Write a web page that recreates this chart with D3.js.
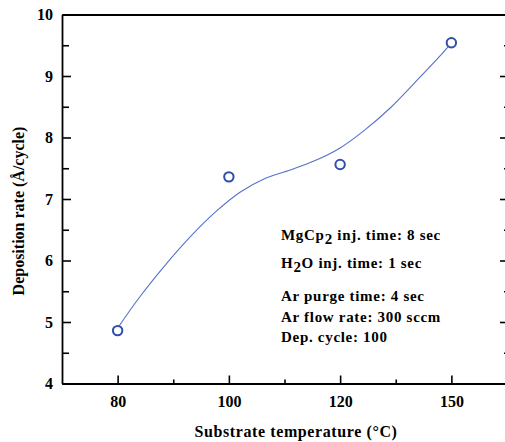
<!DOCTYPE html>
<html>
<head>
<meta charset="utf-8">
<script src="https://cdn.jsdelivr.net/npm/d3@7"></script>
<style>
  html, body { margin: 0; padding: 0; background: #fff; }
  svg text { font-family: "Liberation Serif", "Times New Roman", serif; font-weight: bold; }
</style>
</head>
<body>
<div id="chart"></div>
<script>
// data
var temps = ["80", "100", "120", "150"];
var rates = [4.86, 7.36, 7.56, 9.54];

// smooth fit line (x = position along the category axis)
var fitPos  = [0, 0.2, 0.43, 0.65, 0.88, 1.1, 1.32, 1.55, 1.77, 2.0, 2.22, 2.45, 2.67, 2.9, 3];
var fitRate = [4.90, 5.41, 5.93, 6.38, 6.79, 7.11, 7.33, 7.47, 7.62, 7.83, 8.12, 8.48, 8.89, 9.33, 9.54];

var yTicks = [4, 5, 6, 7, 8, 9, 10];
var yMinor = [4.5, 5.5, 6.5, 7.5, 8.5, 9.5];
var xMinor = [0.5, 1.5, 2.5];

var notes = [
  ["MgCp", "2", " inj. time: 8 sec"],
  ["H", "2", "O inj. time: 1 sec"],
  ["Ar purge time: 4 sec", "", ""],
  ["Ar flow rate: 300 sccm", "", ""],
  ["Dep. cycle: 100", "", ""]
];

function drawChart() {
  var width = 505, height = 442;
  var left = 62, right = 507, top = 14.5, bottom = 383.5;

  var svg = d3.select("#chart").append("svg")
    .attr("width", width)
    .attr("height", height);

  var x = d3.scaleLinear().domain([-0.5, temps.length - 0.5]).range([left, right]);
  var y = d3.scaleLinear().domain([4, 10]).range([bottom, top]);

  // left axis, ticks pointing in
  svg.append("g")
    .attr("transform", `translate(${left},0)`)
    .call(d3.axisLeft(y).tickValues(yTicks).tickSize(-9).tickSizeOuter(0).tickPadding(9).tickFormat(d3.format("d")))
    .call(g => g.select(".domain").attr("stroke-width", 1.8))
    .call(g => g.selectAll(".tick line").attr("stroke-width", 1.6))
    .call(g => g.selectAll("text").attr("font-size", 16).attr("fill", "#000"));
  svg.append("g")
    .attr("transform", `translate(${left},0)`)
    .call(d3.axisLeft(y).tickValues(yMinor).tickSize(-7).tickSizeOuter(0).tickFormat(""))
    .call(g => g.select(".domain").remove())
    .call(g => g.selectAll(".tick line").attr("stroke-width", 1.6));

  // right axis
  svg.append("g")
    .attr("transform", `translate(${right},0)`)
    .call(d3.axisLeft(y).tickValues(yTicks).tickSize(7).tickSizeOuter(0).tickFormat(""))
    .call(g => g.select(".domain").attr("stroke-width", 1.8))
    .call(g => g.selectAll(".tick line").attr("stroke-width", 1.6));
  svg.append("g")
    .attr("transform", `translate(${right},0)`)
    .call(d3.axisLeft(y).tickValues(yMinor).tickSize(3).tickSizeOuter(0).tickFormat(""))
    .call(g => g.select(".domain").remove())
    .call(g => g.selectAll(".tick line").attr("stroke-width", 1.6));

  // bottom axis
  svg.append("g")
    .attr("transform", `translate(0,${bottom})`)
    .call(d3.axisBottom(x).tickValues(d3.range(temps.length)).tickSize(-8).tickSizeOuter(0).tickPadding(12)
      .tickFormat(function(d) { return temps[d]; }))
    .call(g => g.select(".domain").attr("stroke-width", 1.8))
    .call(g => g.selectAll(".tick line").attr("stroke-width", 1.6))
    .call(g => g.selectAll("text").attr("font-size", 16).attr("fill", "#000"));
  svg.append("g")
    .attr("transform", `translate(0,${bottom})`)
    .call(d3.axisBottom(x).tickValues(xMinor).tickSize(-4).tickSizeOuter(0).tickFormat(""))
    .call(g => g.select(".domain").remove())
    .call(g => g.selectAll(".tick line").attr("stroke-width", 1.6));

  // top frame
  svg.append("g")
    .attr("transform", `translate(0,${top})`)
    .call(d3.axisTop(x).tickValues([]).tickSizeOuter(0))
    .call(g => g.select(".domain").attr("stroke-width", 1.8));

  // fit line
  var line = d3.line()
    .x((d, i) => x(fitPos[i]))
    .y(d => y(d))
    .curve(d3.curveCatmullRom.alpha(0.5));

  svg.append("path")
    .datum(fitRate)
    .attr("fill", "none")
    .attr("stroke", "#5674c6")
    .attr("stroke-width", 1.1)
    .attr("d", line);

  // markers
  svg.append("g")
    .selectAll("circle")
    .data(rates)
    .enter()
    .append("circle")
    .attr("cx", (d, i) => x(i))
    .attr("cy", d => y(d))
    .attr("r", 4.7)
    .attr("fill", "#fff")
    .attr("stroke", "#2f4faa")
    .attr("stroke-width", 2);

  // conditions text
  var baselines = [239.5, 268, 300.5, 321.5, 341.5];
  var t = svg.append("g").selectAll("text")
    .data(notes)
    .enter()
    .append("text")
    .attr("x", 281)
    .attr("y", (d, i) => baselines[i])
    .attr("font-size", 15)
    .attr("letter-spacing", 0.7)
    .attr("fill", "#000");
  t.append("tspan").text(d => d[0]);
  t.filter(d => d[1] !== "").append("tspan").attr("dy", 4).text(d => d[1]);
  t.filter(d => d[1] !== "").append("tspan").attr("dy", -4).text(d => d[2]);

  // axis titles
  svg.append("text")
    .attr("x", 296)
    .attr("y", 437)
    .attr("text-anchor", "middle")
    .attr("font-size", 16)
    .attr("letter-spacing", 0.6)
    .text("Substrate temperature (\u00B0C)");

  svg.append("text")
    .attr("transform", "translate(24,211) rotate(-90)")
    .attr("text-anchor", "middle")
    .attr("font-size", 16)
    .text("Deposition rate (\u00C5/cycle)");
}

function init() {
  drawChart();
}

window.onload = init;
</script>
</body>
</html>
